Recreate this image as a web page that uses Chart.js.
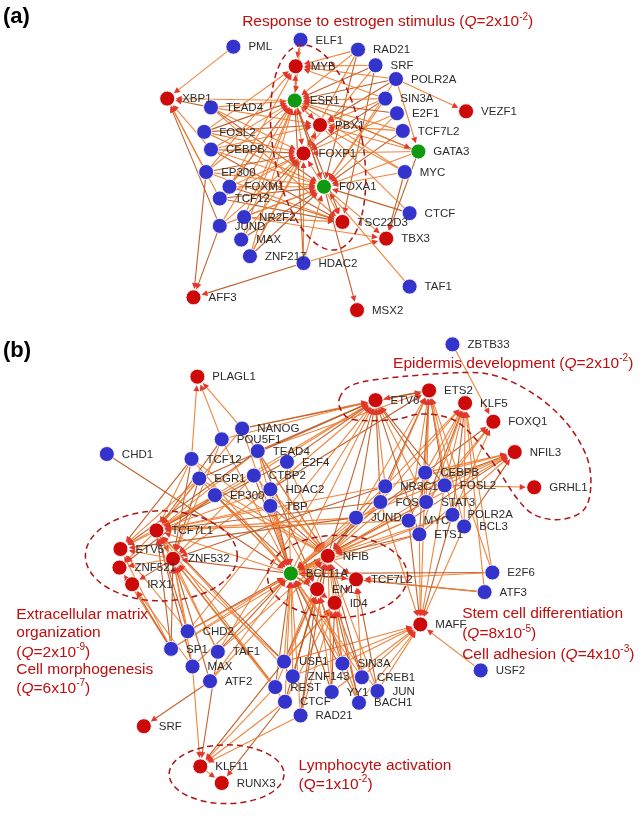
<!DOCTYPE html>
<html lang="en">
<head>
<meta charset="UTF-8">
<title>Regulatory networks</title>
<script src="https://cdn.jsdelivr.net/npm/chart.js"></script>
<style>
  html, body { margin: 0; padding: 0; background: #fff; }
  #wrap { width: 643px; height: 816px; }
</style>
</head>
<body>
<div id="wrap"><canvas id="net" width="643" height="816"></canvas></div>
<script>
// ---- panel (a) nodes: b = TF (blue), r = target (red), g = TF and target (green)
const aNames = ['PML','ELF1','RAD21','MYB','SRF','POLR2A','XBP1','ESR1','SIN3A','TEAD4','VEZF1','E2F1','PBX1','FOSL2','TCF7L2','CEBPB','FOXP1','GATA3','EP300','MYC','FOXM1','FOXA1','TCF12','CTCF','NR2F2','TSC22D3','JUND','MAX','TBX3','ZNF217','HDAC2','TAF1','AFF3','MSX2'];
const aX = [231,300,359,295,377,398,163,294,387,208,470,399,320,201,405,208,303,421,203,407,227,324,217,412,242,343,217,239,388,248,303,412,190,358];
const aY = [39,32,42,59,58,72,92,94,92,101,105,107,119,126,125,144,148,146,167,167,182,182,194,209,213,218,222,236,235,253,260,284,295,308];
const aKind = ['b','b','b','r','b','b','r','g','b','b','r','b','r','b','b','b','r','g','b','b','b','g','b','b','b','r','b','b','r','b','b','b','r','r'];

const aEdges = [
  ['PML','XBP1'],
  ['ELF1','MYB ESR1'],
  ['RAD21','ESR1 FOXA1 FOXP1 MYB'],
  ['SRF','ESR1 FOXP1 MYB TSC22D3'],
  ['POLR2A','VEZF1 GATA3 ESR1 FOXA1 MYB PBX1'],
  ['SIN3A','ESR1 FOXA1 FOXP1 PBX1 MYB'],
  ['E2F1','ESR1 FOXP1 FOXA1'],
  ['TCF7L2','FOXA1 ESR1 PBX1'],
  ['TEAD4','XBP1 ESR1 FOXP1 FOXA1 TSC22D3 PBX1'],
  ['FOSL2','ESR1 FOXA1 FOXP1 PBX1 MYB'],
  ['CEBPB','ESR1 FOXP1 FOXA1 XBP1 TSC22D3 PBX1'],
  ['EP300','XBP1 AFF3 ESR1 FOXA1 FOXP1 MYB TSC22D3'],
  ['FOXM1','ESR1 FOXA1 FOXP1 TSC22D3 MYB'],
  ['TCF12','ESR1 FOXA1 XBP1 FOXP1 TSC22D3'],
  ['NR2F2','ESR1 FOXA1 FOXP1 TSC22D3 TBX3'],
  ['JUND','AFF3 ESR1 FOXA1 XBP1 FOXP1'],
  ['MAX','ESR1 FOXA1 FOXP1'],
  ['ZNF217','ESR1 FOXA1 FOXP1 PBX1'],
  ['HDAC2','AFF3 TBX3 FOXA1 ESR1 FOXP1'],
  ['MYC','FOXA1 TBX3 ESR1 PBX1'],
  ['CTCF','FOXA1 ESR1'],
  ['TAF1','FOXA1'],
  ['GATA3','ESR1 FOXA1 FOXP1 TBX3 PBX1'],
  ['ESR1','XBP1 MYB FOXP1 PBX1 TSC22D3 FOXA1 GATA3'],
  ['FOXA1','ESR1 TBX3 TSC22D3 MSX2 FOXP1']
];

// ---- panel (b) nodes
const bNames = ['ZBTB33','PLAGL1','ETS2','ETV6','KLF5','FOXQ1','NANOG','POU5F1','TEAD4','NFIL3','CHD1','TCF12','E2F4','CEBPB','CTBP2','EGR1','NR3C1','FOSL2','GRHL1','HDAC2','EP300','FOS','STAT3','TBP','POLR2A','JUND','MYC','BCL3','TCF7L1','ETS1','ETV5','NFIB','ZNF532','ZNF521','E2F6','BCL11A','TCF7L2','IRX1','EN1','ATF3','ID4','MAFF','CHD2','SP1','TAF1','USF1','SIN3A','MAX','USF2','ZNF143','CREB1','ATF2','REST','JUN','YY1','CTCF','BACH1','RAD21','SRF','KLF11','RUNX3'];
const bX = [456,194,432,377,469,498,240,219,256,520,101,188,286,428,252,196,387,448,540,269,212,382,429,269,456,357,411,468,152,422,115,328,169,114,497,290,357,127,317,489,335,423,184,167,215,283,343,189,485,292,363,207,274,379,332,284,360,300,139,197,219];
const bY = [343,376,390,400,403,422,429,440,452,453,455,460,463,474,477,480,488,487,489,491,497,504,504,508,517,520,523,529,533,537,552,559,562,571,576,577,583,588,593,596,607,629,636,654,657,667,669,672,676,682,683,687,693,697,698,708,709,722,733,774,791];
const bKind = ['b','r','r','r','r','r','b','b','b','r','b','b','b','b','b','b','b','b','r','b','b','b','b','b','b','b','b','b','r','b','r','r','r','r','b','g','r','r','r','b','r','r','b','b','b','b','b','b','b','b','b','b','b','b','b','b','b','b','r','r','r'];

const bEdges = [
  ['ZBTB33','FOXQ1'],
  ['CHD1','BCL11A'],
  ['TCF12','PLAGL1 TCF7L1 ETV5 BCL11A NFIB ZNF532'],
  ['NANOG','PLAGL1 ETV6 ETS2 TCF7L1 BCL11A NFIB'],
  ['POU5F1','PLAGL1 ETV6 TCF7L1 BCL11A ZNF532'],
  ['TEAD4','ETV6 ETS2 TCF7L1 ETV5 BCL11A NFIB EN1'],
  ['EGR1','TCF7L1 ETV5 ZNF532 BCL11A NFIB ETV6'],
  ['CTBP2','ETV6 TCF7L1 BCL11A NFIB ZNF532'],
  ['E2F4','ETV6 BCL11A NFIB TCF7L1'],
  ['EP300','TCF7L1 ETV5 ZNF521 BCL11A NFIB EN1 ETV6'],
  ['HDAC2','TCF7L1 BCL11A NFIB ETV6 ETS2 ZNF532'],
  ['TBP','BCL11A NFIB EN1 TCF7L1'],
  ['CEBPB','ETV6 ETS2 KLF5 FOXQ1 NFIL3 NFIB BCL11A MAFF'],
  ['NR3C1','ETV6 ETS2 KLF5 NFIL3 NFIB BCL11A TCF7L1 ZNF532'],
  ['FOSL2','GRHL1 NFIL3 ETS2 KLF5 FOXQ1 ETV6 MAFF NFIB'],
  ['FOS','ETV6 ETS2 KLF5 NFIL3 NFIB BCL11A TCF7L1 MAFF'],
  ['STAT3','ETS2 KLF5 FOXQ1 NFIL3 BCL11A NFIB ETV6'],
  ['JUND','ETV6 ETS2 NFIL3 NFIB BCL11A TCF7L1 ETV5'],
  ['MYC','ETS2 KLF5 NFIL3 NFIB BCL11A MAFF TCF7L1'],
  ['POLR2A','ETS2 KLF5 FOXQ1 NFIB MAFF BCL11A'],
  ['BCL3','KLF5 NFIL3 ETS2 MAFF'],
  ['ETS1','ETS2 KLF5 NFIL3 NFIB BCL11A MAFF ETV6'],
  ['E2F6','ETS2 KLF5 BCL11A TCF7L2'],
  ['ATF3','KLF5 BCL11A TCF7L2'],
  ['USF2','MAFF'],
  ['CHD2','TCF7L1 ETV5 ZNF532 BCL11A NFIB ETV6'],
  ['SP1','TCF7L1 ETV5 ZNF521 IRX1 BCL11A NFIB ZNF532'],
  ['TAF1','TCF7L1 ZNF532 BCL11A NFIB ETV6 KLF11'],
  ['MAX','KLF11 ZNF532 TCF7L1 BCL11A IRX1'],
  ['ATF2','SRF BCL11A NFIB ZNF532'],
  ['USF1','BCL11A NFIB EN1 ID4 TCF7L2 KLF11 MAFF ZNF532 TCF7L1'],
  ['ZNF143','BCL11A NFIB EN1 MAFF TCF7L1'],
  ['REST','BCL11A EN1 KLF11 ZNF532 TCF7L1'],
  ['CTCF','BCL11A NFIB ID4 KLF11 RUNX3 ZNF532'],
  ['RAD21','BCL11A EN1 ID4 KLF11 NFIB'],
  ['SIN3A','BCL11A NFIB EN1 ID4 MAFF'],
  ['YY1','BCL11A NFIB EN1 ID4 MAFF'],
  ['CREB1','BCL11A NFIB TCF7L2 MAFF ID4'],
  ['JUN','MAFF NFIB TCF7L2 BCL11A'],
  ['BACH1','MAFF BCL11A NFIB EN1 ID4'],
  ['BCL11A','NFIB EN1 ID4 TCF7L2 TCF7L1 ZNF532 ETV6'],
  ['NFIB','BCL11A ETV6 TCF7L2'],
  ['TCF7L1','ETV5 ZNF532 ZNF521'],
  ['ZNF532','ETV5 IRX1 ZNF521 TCF7L1'],
  ['ETS2','ETV6'],
  ['KLF11','RUNX3']
];

// ---- text and outlines drawn over the network (chart value space)
const notes = [
  { x: 240, y: 18,  text: 'Response to estrogen stimulus (*Q*=2x10^-2^)' },
  { x: 395, y: 367, text: 'Epidermis development (*Q*=2x10^-2^)' },
  { x: 8,   y: 623, text: 'Extracellular matrix' },
  { x: 8,   y: 642, text: 'organization' },
  { x: 8,   y: 662, text: '(*Q*=2x10^-9^)' },
  { x: 8,   y: 680, text: 'Cell morphogenesis' },
  { x: 8,   y: 699, text: '(*Q*=6x10^-7^)' },
  { x: 466, y: 622, text: 'Stem cell differentiation' },
  { x: 466, y: 643, text: '(*Q*=8x10^-5^)' },
  { x: 466, y: 664, text: 'Cell adhesion (*Q*=4x10^-3^)' },
  { x: 298, y: 778, text: 'Lymphocyte activation' },
  { x: 298, y: 797, text: '(Q=1x10^-2^)' }
];
const rings = [
  { x: 318, y: 142, rx: 46, ry: 106, rot: -10 },
  { x: 157, y: 559, rx: 78, ry: 46, rot: 0 },
  { x: 338, y: 580, rx: 72, ry: 42, rot: 0 },
  { x: 224, y: 782, rx: 59, ry: 30, rot: 0 }
];
const epidermisOutline = [[340,398],[352,385],[385,378],[460,372],[500,375],[540,394],[573,423],[594,458],[598,490],[590,513],[566,522],[540,517],[522,500],[502,470],[480,440],[457,420],[425,414],[395,420],[355,420],[342,411]];

const BLUE = '#3434cd', RED = '#cc0a0a', GREEN = '#0f9a12';
const EDGE = 'rgba(238,126,52,0.95)', EDGE_DARK = 'rgba(190,88,36,0.95)', ARROW = '#e2372a';
const NOTE_RED = '#c00d0d', RING_RED = '#b01414';
const NODE_R = 7.5;

function nodePoints(names, xs, ys, kinds, kind) {
  const out = [];
  names.forEach((n, i) => { if (kinds[i] === kind) out.push({ x: xs[i], y: ys[i] }); });
  return out;
}

function drawEdges(ctx, sx, sy, names, xs, ys, edges) {
  const idx = {};
  names.forEach((n, i) => idx[n] = i);
  let k = 0;
  edges.forEach(([src, tgts]) => {
    tgts.split(' ').forEach(t => {
      const i = idx[src], j = idx[t];
      if (i === undefined || j === undefined) return;
      const x1 = sx.getPixelForValue(xs[i]), y1 = sy.getPixelForValue(ys[i]);
      const x2 = sx.getPixelForValue(xs[j]), y2 = sy.getPixelForValue(ys[j]);
      const len = Math.hypot(x2 - x1, y2 - y1);
      const ux = (x2 - x1) / len, uy = (y2 - y1) / len;
      const ex = x2 - ux * (NODE_R + 1), ey = y2 - uy * (NODE_R + 1);
      ctx.strokeStyle = (k % 3 === 1) ? EDGE_DARK : EDGE;
      ctx.lineWidth = 1.1;
      ctx.beginPath();
      ctx.moveTo(x1, y1);
      ctx.lineTo(ex - ux * 4, ey - uy * 4);
      ctx.stroke();
      ctx.fillStyle = ARROW;
      ctx.beginPath();
      ctx.moveTo(ex, ey);
      ctx.lineTo(ex - ux * 6 - uy * 3, ey - uy * 6 + ux * 3);
      ctx.lineTo(ex - ux * 6 + uy * 3, ey - uy * 6 - ux * 3);
      ctx.closePath();
      ctx.fill();
      k++;
    });
  });
}

function drawLabels(ctx, sx, sy, names, xs, ys) {
  ctx.font = '11.5px "Liberation Sans", Arial, sans-serif';
  ctx.fillStyle = '#2b2b2b';
  ctx.textBaseline = 'middle';
  ctx.textAlign = 'left';
  names.forEach((n, i) => {
    ctx.fillText(n, sx.getPixelForValue(xs[i]) + 15, sy.getPixelForValue(ys[i]) + 0.5);
  });
}

// *x* = italic, ^x^ = superscript
function drawRich(ctx, x, y, text, size) {
  const parts = text.split(/(\*[^*]+\*|\^[^^]+\^)/).filter(s => s.length);
  const fam = '"Liberation Sans", Arial, sans-serif';
  ctx.textBaseline = 'alphabetic';
  ctx.textAlign = 'left';
  parts.forEach(p => {
    let font = size + 'px ' + fam, dy = 0, s = p;
    if (p[0] === '*') { font = 'italic ' + size + 'px ' + fam; s = p.slice(1, -1); }
    else if (p[0] === '^') { font = (size * 0.65) + 'px ' + fam; dy = -size * 0.42; s = p.slice(1, -1); }
    ctx.font = font;
    ctx.fillText(s, x, y + dy);
    x += ctx.measureText(s).width;
  });
}

function drawClosedCurve(ctx, pts) {
  const n = pts.length;
  ctx.beginPath();
  ctx.moveTo(pts[0][0], pts[0][1]);
  for (let i = 0; i < n; i++) {
    const p0 = pts[(i - 1 + n) % n], p1 = pts[i], p2 = pts[(i + 1) % n], p3 = pts[(i + 2) % n];
    ctx.bezierCurveTo(
      p1[0] + (p2[0] - p0[0]) / 6, p1[1] + (p2[1] - p0[1]) / 6,
      p2[0] - (p3[0] - p1[0]) / 6, p2[1] - (p3[1] - p1[1]) / 6,
      p2[0], p2[1]);
  }
  ctx.closePath();
  ctx.stroke();
}

const netPlugin = {
  id: 'net',
  beforeDatasetsDraw(chart) {
    const ctx = chart.ctx, sx = chart.scales.x, sy = chart.scales.y;
    ctx.save();
    drawEdges(ctx, sx, sy, aNames, aX, aY, aEdges);
    drawEdges(ctx, sx, sy, bNames, bX, bY, bEdges);
    ctx.restore();
  },
  afterDatasetsDraw(chart) {
    const ctx = chart.ctx, sx = chart.scales.x, sy = chart.scales.y;
    ctx.save();
    drawLabels(ctx, sx, sy, aNames, aX, aY);
    drawLabels(ctx, sx, sy, bNames, bX, bY);

    // dashed group outlines
    ctx.strokeStyle = RING_RED;
    ctx.lineWidth = 1.5;
    ctx.setLineDash([6, 4]);
    rings.forEach(r => {
      const cx = sx.getPixelForValue(r.x), cy = sy.getPixelForValue(r.y);
      const rx = Math.abs(sx.getPixelForValue(r.x + r.rx) - cx);
      const ry = Math.abs(sy.getPixelForValue(r.y + r.ry) - cy);
      ctx.beginPath();
      ctx.ellipse(cx, cy, rx, ry, r.rot * Math.PI / 180, 0, Math.PI * 2);
      ctx.stroke();
    });
    drawClosedCurve(ctx, epidermisOutline.map(p => [sx.getPixelForValue(p[0]), sy.getPixelForValue(p[1])]));
    ctx.setLineDash([]);

    ctx.fillStyle = NOTE_RED;
    notes.forEach(n => drawRich(ctx, sx.getPixelForValue(n.x), sy.getPixelForValue(n.y), n.text, 15.5));

    ctx.fillStyle = '#000';
    ctx.font = 'bold 22px "Liberation Sans", Arial, sans-serif';
    ctx.fillText('(a)', 3, 23);
    ctx.fillText('(b)', 3, 357);
    ctx.restore();
  }
};

const pointStyle = (color) => ({
  backgroundColor: color,
  borderColor: 'rgba(255,255,255,0.85)',
  borderWidth: 1,
  pointRadius: NODE_R,
  pointHoverRadius: NODE_R
});

new Chart(document.getElementById('net'), {
  type: 'scatter',
  data: {
    datasets: [
      Object.assign({ label: 'TF', data: nodePoints(aNames, aX, aY, aKind, 'b').concat(nodePoints(bNames, bX, bY, bKind, 'b')) }, pointStyle(BLUE)),
      Object.assign({ label: 'Target', data: nodePoints(aNames, aX, aY, aKind, 'r').concat(nodePoints(bNames, bX, bY, bKind, 'r')) }, pointStyle(RED)),
      Object.assign({ label: 'TF and target', data: nodePoints(aNames, aX, aY, aKind, 'g').concat(nodePoints(bNames, bX, bY, bKind, 'g')) }, pointStyle(GREEN))
    ]
  },
  options: {
    responsive: false,
    animation: false,
    events: [],
    layout: { padding: 0 },
    plugins: { legend: { display: false }, tooltip: { enabled: false } },
    scales: {
      x: { type: 'linear', min: 0, max: 643, display: false },
      y: { type: 'linear', min: 0, max: 816, reverse: true, display: false }
    }
  },
  plugins: [netPlugin]
});
</script>
</body>
</html>
